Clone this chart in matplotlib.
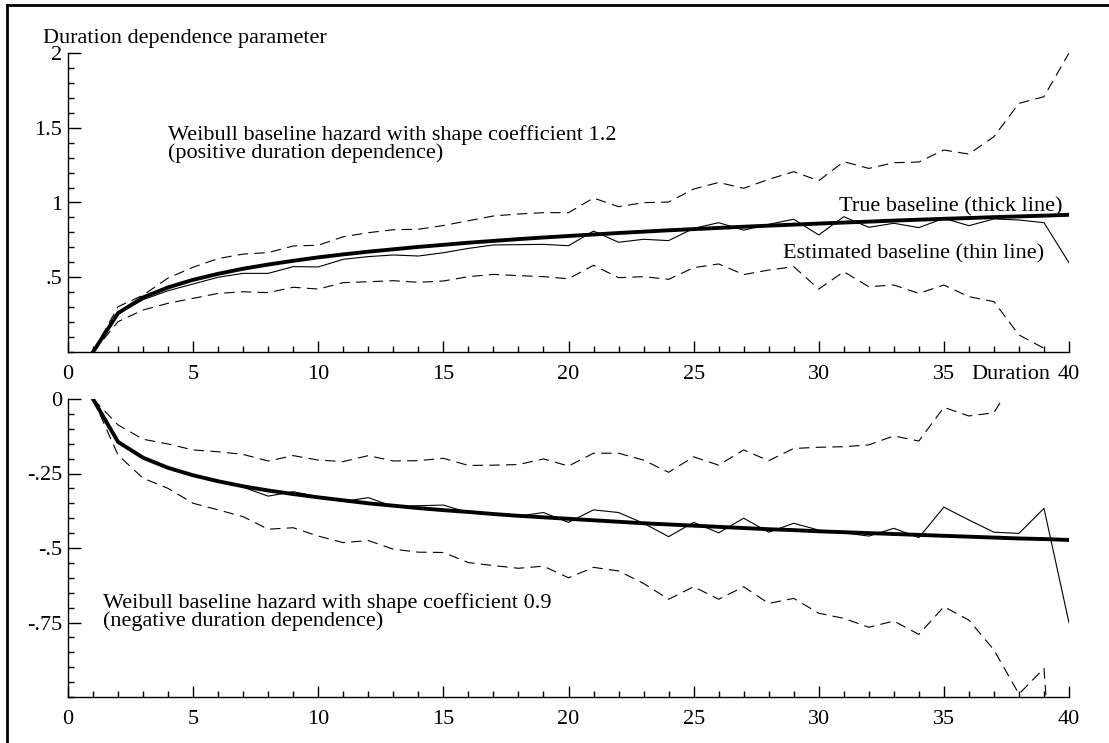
#!/usr/bin/env python3
"""Estimated vs. true Weibull baseline hazards (duration dependence)

Two panels: shape coefficient 1.2 (positive duration dependence) on top,
0.9 (negative duration dependence) below. Thick line is the true baseline,
thin line the estimate, dashed lines the confidence band.
"""

import matplotlib
matplotlib.use('Agg')
import matplotlib.pyplot as plt
from matplotlib.lines import Line2D
from matplotlib.ticker import MultipleLocator


# Data
duration = list(range(1, 41))

top_true = [0, 0.260, 0.365, 0.432, 0.483, 0.523, 0.557, 0.585, 0.610, 0.633,
            0.653, 0.671, 0.687, 0.703, 0.717, 0.731, 0.743, 0.755, 0.766, 0.776,
            0.786, 0.796, 0.805, 0.814, 0.822, 0.830, 0.838, 0.845, 0.852, 0.859,
            0.866, 0.872, 0.879, 0.885, 0.891, 0.896, 0.902, 0.907, 0.912, 0.918]
top_est = [0, 0.255, 0.350, 0.410, 0.455, 0.500, 0.526, 0.526, 0.571, 0.569,
           0.620, 0.638, 0.649, 0.642, 0.664, 0.693, 0.716, 0.718, 0.720, 0.711,
           0.809, 0.734, 0.754, 0.745, 0.827, 0.865, 0.815, 0.854, 0.888, 0.783,
           0.905, 0.834, 0.861, 0.832, 0.894, 0.845, 0.890, 0.883, 0.865, 0.597]
top_hi = [0, 0.303, 0.380, 0.495, 0.567, 0.625, 0.655, 0.665, 0.709, 0.714,
          0.771, 0.798, 0.818, 0.821, 0.846, 0.878, 0.910, 0.923, 0.932, 0.932,
          1.030, 0.972, 0.999, 1.003, 1.090, 1.134, 1.095, 1.155, 1.206, 1.146,
          1.273, 1.228, 1.266, 1.271, 1.351, 1.324, 1.440, 1.663, 1.708, 2.000]
top_lo = [0, 0.203, 0.281, 0.326, 0.359, 0.392, 0.403, 0.397, 0.433, 0.421,
          0.464, 0.470, 0.477, 0.466, 0.475, 0.504, 0.519, 0.511, 0.504, 0.490,
          0.580, 0.497, 0.504, 0.486, 0.564, 0.589, 0.518, 0.548, 0.571, 0.421,
          0.537, 0.437, 0.448, 0.392, 0.448, 0.370, 0.337, 0.114, 0.025, -0.500]

bot_true = [0, -0.144, -0.197, -0.231, -0.256, -0.276, -0.293, -0.307, -0.319, -0.330,
            -0.340, -0.350, -0.358, -0.366, -0.373, -0.379, -0.386, -0.392, -0.397, -0.402,
            -0.407, -0.412, -0.417, -0.421, -0.425, -0.429, -0.433, -0.437, -0.440, -0.444,
            -0.447, -0.450, -0.453, -0.456, -0.459, -0.462, -0.465, -0.468, -0.470, -0.473]
bot_est = [0, -0.145, -0.198, -0.230, -0.257, -0.276, -0.296, -0.326, -0.311, -0.328,
           -0.344, -0.331, -0.361, -0.358, -0.356, -0.381, -0.387, -0.393, -0.381, -0.414,
           -0.372, -0.381, -0.417, -0.462, -0.414, -0.449, -0.400, -0.447, -0.417, -0.440,
           -0.449, -0.460, -0.434, -0.465, -0.363, -0.406, -0.447, -0.451, -0.367, -0.751]
bot_hi = [0, -0.087, -0.135, -0.151, -0.171, -0.177, -0.186, -0.208, -0.190, -0.205,
          -0.210, -0.190, -0.208, -0.207, -0.199, -0.223, -0.222, -0.220, -0.201, -0.225,
          -0.182, -0.182, -0.205, -0.246, -0.194, -0.222, -0.171, -0.207, -0.166, -0.162,
          -0.160, -0.154, -0.124, -0.141, -0.028, -0.057, -0.046, 0.090, 0.150, 0.200]
bot_lo = [0, -0.188, -0.266, -0.300, -0.350, -0.372, -0.395, -0.437, -0.432, -0.460,
          -0.482, -0.475, -0.504, -0.514, -0.515, -0.549, -0.559, -0.568, -0.561, -0.600,
          -0.565, -0.577, -0.619, -0.672, -0.630, -0.672, -0.630, -0.686, -0.669, -0.719,
          -0.736, -0.766, -0.745, -0.790, -0.697, -0.742, -0.842, -0.990, -0.904, -2.100]

x_ticks = [0, 5, 10, 15, 20, 25, 30, 35, 40]
top_yticks = [0.5, 1, 1.5, 2]
top_ylabels = ['.5', '1', '1.5', '2']
bot_yticks = [0, -0.25, -0.5, -0.75]
bot_ylabels = ['0', '-.25', '-.5', '-.75']

plt.rcParams['font.family'] = ['Liberation Serif', 'DejaVu Serif']
plt.rcParams['font.size'] = 16
plt.rcParams['lines.scale_dashes'] = False

W, H = 1109, 743
fig = plt.figure(figsize=(W / 100, H / 100), dpi=100)
ax1 = fig.add_axes([68 / W, 1 - 352 / H, 1001 / W, 299 / H])
ax2 = fig.add_axes([68 / W, 1 - 697 / H, 1001 / W, 298 / H])


def draw_panel(ax, true, est, lo, hi, yticks, ylabels, yminor, ylim):
    dash = (0, (7.5, 4.5))
    ax.plot(duration, hi, color='black', lw=0.8, ls=dash)
    ax.plot(duration, lo, color='black', lw=0.8, ls=dash)
    ax.plot(duration, est, color='black', lw=0.8)
    ax.plot(duration, true, color='black', lw=2.8)
    ax.set_xlim(0, 40)
    ax.set_ylim(*ylim)
    ax.spines[['top', 'right']].set_visible(False)
    ax.spines[['left', 'bottom']].set_linewidth(1.0)
    ax.set_xticks(x_ticks)
    ax.xaxis.set_minor_locator(MultipleLocator(1))
    ax.set_yticks(yticks, ylabels)
    ax.yaxis.set_minor_locator(MultipleLocator(yminor))
    ax.tick_params(axis='x', which='major', direction='in', length=8,
                   width=1, pad=9.5)
    ax.tick_params(axis='x', which='minor', direction='in', length=4, width=1)
    ax.tick_params(axis='y', which='major', direction='in', length=9,
                   width=1, pad=4)
    ax.tick_params(axis='y', which='minor', direction='in', length=4.5,
                   width=1)


draw_panel(ax1, top_true, top_est, top_lo, top_hi,
           top_yticks, top_ylabels, 0.1, (0, 2))
draw_panel(ax2, bot_true, bot_est, bot_lo, bot_hi,
           bot_yticks, bot_ylabels, 0.05, (-1, 0))

# Texts
fig.text(43 / W, 1 - 43 / H, 'Duration dependence parameter',
         ha='left', va='baseline')
ax1.text(4.0, 1.518, 'Weibull baseline hazard with shape coefficient 1.2\n'
         '(positive duration dependence)', ha='left', va='top', linespacing=0.9)
ax1.text(39.76, 0.938, 'True baseline (thick line)', ha='right', va='baseline')
ax1.text(39.0, 0.627, 'Estimated baseline (thin line)', ha='right',
         va='baseline')
ax1.annotate('Duration', xy=(40, 0), xytext=(-13.5, -9.5),
             textcoords='offset points', ha='right', va='top')
ax2.text(1.41, -0.652, 'Weibull baseline hazard with shape coefficient 0.9\n'
         '(negative duration dependence)', ha='left', va='top', linespacing=0.9)

# Frame around the figure
fig.add_artist(Line2D([7 / W, 7 / W], [0, 1 - 5 / H], color='black', lw=2))
fig.add_artist(Line2D([7 / W, 1], [1 - 5 / H, 1 - 5 / H], color='black', lw=2))

plt.savefig('out.png', dpi=100)
